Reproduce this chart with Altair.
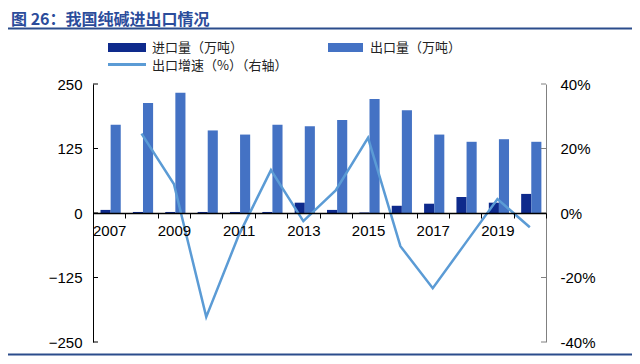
import altair as alt
import pandas as pd

# ---------------- data ----------------
years = [str(y) for y in range(2007, 2021)]
imports = [6, 2, 2, 2, 2, 2, 20, 6, 1, 14, 18, 31, 20, 37]
exports = [171, 213, 233, 160, 152, 171, 168, 180, 221, 199, 152, 138, 143, 138]
growth_years = years[1:]
growth = [24.6, 9.0, -32.2, -7.0, 13.3, -2.5, 7.0, 23.3, -10.3, -23.3, -9.5, 4.3, -4.4]
left_ticks = [-250, -125, 0, 125, 250]
right_ticks = [-40, -20, 0, 20, 40]

IMP = "进口量（万吨）"
EXP = "出口量（万吨）"
GRO = "出口增速（%）（右轴）"
TITLE = "图 26：我国纯碱进出口情况"

bars_df = pd.DataFrame({
    "year": years * 2,
    "series": [IMP] * len(years) + [EXP] * len(years),
    "value": imports + exports,
})
line_df = pd.DataFrame({"year": growth_years, "growth": growth})
lt_df = pd.DataFrame({"value": left_ticks})
rt_df = pd.DataFrame({"growth": right_ticks})

W, H = 453, 258
FONT = "Liberation Sans"
CJK = "Noto Sans CJK SC"
C_IMP = "#0E2A8C"
C_EXP = "#4472C4"
C_LINE = "#5B9BD5"
C_TITLE = "#2B4C9B"

x_scale = alt.Scale(domain=years, paddingInner=0, paddingOuter=0)
x_axis = alt.Axis(
    title=None, labelAngle=0,
    labelExpr="toNumber(datum.value) % 2 == 1 ? datum.label : ''",
    tickBand="extent", offset=-129, zindex=1,
    domainColor="black", domainWidth=1.5, tickColor="black", tickSize=5,
    labelFont=FONT, labelFontSize=15, labelColor="black", labelPadding=5,
    labelOverlap=False, grid=False,
)
yl_scale = alt.Scale(domain=[-250, 250], nice=False, zero=False)
yr_scale = alt.Scale(domain=[-40, 40], nice=False, zero=False)
yl_axis = alt.Axis(title=None, values=left_ticks, ticks=False, tickSize=0,
                   domainColor="black", domainWidth=1, labelPadding=11,
                   labelFont=FONT, labelFontSize=15, labelColor="black", grid=False)
yr_axis = alt.Axis(orient="right", title=None, values=right_ticks, ticks=False,
                   tickSize=0, labelExpr="datum.value + '%'",
                   domainColor="#808080", domainWidth=1, labelPadding=14,
                   labelFont=FONT, labelFontSize=15, labelColor="black", grid=False)

bars = alt.Chart(bars_df).mark_bar().encode(
    x=alt.X("year:O", scale=x_scale, axis=x_axis),
    xOffset=alt.XOffset("series:N", sort=[IMP, EXP],
                        scale=alt.Scale(paddingInner=0, paddingOuter=0.6, align=0.62)),
    y=alt.Y("value:Q", scale=yl_scale, axis=yl_axis),
    color=alt.Color("series:N", scale=alt.Scale(domain=[IMP, EXP], range=[C_IMP, C_EXP]),
                    legend=None),
)

lticks = alt.Chart(lt_df).mark_rule(color="black", strokeWidth=1).encode(
    y=alt.Y("value:Q", scale=yl_scale, axis=yl_axis),
    x=alt.value(0), x2=alt.value(5),
)

line = alt.Chart(line_df).mark_line(color=C_LINE, strokeWidth=2.5).encode(
    x=alt.X("year:O", scale=x_scale, axis=x_axis),
    y=alt.Y("growth:Q", scale=yr_scale, axis=yr_axis),
)

rticks = alt.Chart(rt_df).mark_rule(color="#808080", strokeWidth=1).encode(
    y=alt.Y("growth:Q", scale=yr_scale, axis=yr_axis),
    x=alt.value(W - 5), x2=alt.value(W),
)

one = alt.Data(values=[{"a": 1}])


def txt(s, x, y, size=13, color="#222222", weight="normal", font=CJK):
    return alt.Chart(one).mark_text(text=s, align="left", baseline="middle", font=font,
                                    fontSize=size, color=color, fontWeight=weight).encode(
        x=alt.value(x), y=alt.value(y))


def box(x1, x2, y1, y2, color):
    return alt.Chart(one).mark_rect(color=color).encode(
        x=alt.value(x1), x2=alt.value(x2), y=alt.value(y1), y2=alt.value(y2))


def hline(x1, x2, y, color, width):
    return alt.Chart(one).mark_rule(color=color, strokeWidth=width).encode(
        x=alt.value(x1), x2=alt.value(x2), y=alt.value(y))


title = txt(TITLE, -82, -64, size=16, color=C_TITLE, weight="bold")
underline = hline(-85, 539, -55.5, "#2B4C8C", 2)
bottomline = hline(-85, 539, 270.5, "#2B4C8C", 2)
leg_imp = box(15, 53, -41, -32, C_IMP)
leg_imp_t = txt(IMP, 59, -36.5)
leg_exp = box(235, 270, -41, -32, C_EXP)
leg_exp_t = txt(EXP, 277, -36.5)
leg_line = hline(15, 53, -19.5, C_LINE, 3)
leg_line_t = txt(GRO, 59, -18.5)

left = alt.layer(bars, lticks, title, underline, bottomline,
                 leg_imp, leg_imp_t, leg_exp, leg_exp_t, leg_line, leg_line_t)
right = alt.layer(line, rticks)

chart = alt.layer(left, right).resolve_scale(y="independent").properties(
    width=W, height=H,
    padding={"left": 85, "top": 76, "right": 86, "bottom": 14},
    autosize=alt.AutoSizeParams(type="none"),
    background="white",
).configure_view(stroke=None)

chart.save("out.html", embed_options={"renderer": "svg", "actions": False})
